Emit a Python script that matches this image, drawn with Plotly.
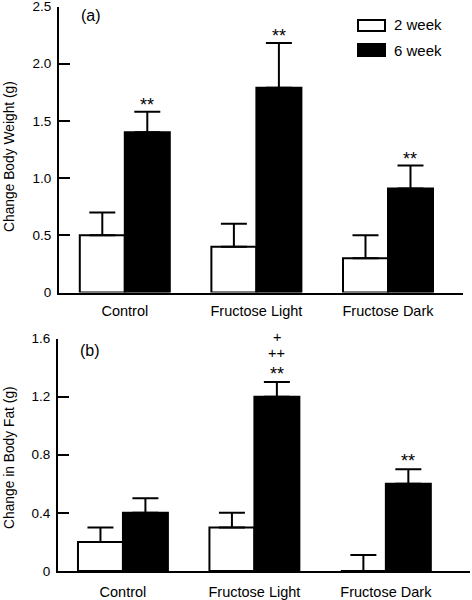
import plotly.graph_objects as go

categories = ["Control", "Fructose Light", "Fructose Dark"]
series_names = ["2 week", "6 week"]

weight_2wk = [0.5, 0.4, 0.3]
weight_2wk_err = [0.2, 0.2, 0.2]
weight_6wk = [1.4, 1.79, 0.91]
weight_6wk_err = [0.18, 0.39, 0.2]

fat_2wk = [0.2, 0.3, 0.0]
fat_2wk_err = [0.1, 0.1, 0.11]
fat_6wk = [0.4, 1.2, 0.6]
fat_6wk_err = [0.1, 0.1, 0.1]

weight_marks = [["**"], ["**"], ["**"]]          # above 6 week bars
fat_marks = [[], ["**", "++", "+"], ["**"]]       # above 6 week bars, bottom->top

weight_tickvals = [0, 0.5, 1.0, 1.5, 2.0, 2.5]
weight_ticktext = ["0", "0.5", "1.0", "1.5", "2.0", "2.5"]
fat_tickvals = [0, 0.4, 0.8, 1.2, 1.6]
fat_ticktext = ["0", "0.4", "0.8", "1.2", "1.6"]

FONT = "Liberation Sans, Arial, sans-serif"
BARGAP = 0.316
half_offset = (1 - BARGAP) / 4  # center offset of each bar within group

fig = go.Figure()

def add_pair(v2, e2, v6, e6, xa, ya):
    fig.add_trace(go.Bar(
        x=categories, y=v2, name=series_names[0], xaxis=xa, yaxis=ya,
        marker=dict(color="white", line=dict(color="black", width=2)),
        error_y=dict(type="data", symmetric=False, array=e2,
                     arrayminus=[0] * len(e2), color="black", thickness=2, width=13),
        showlegend=False))
    fig.add_trace(go.Bar(
        x=categories, y=v6, name=series_names[1], xaxis=xa, yaxis=ya,
        marker=dict(color="black", line=dict(color="black", width=2)),
        error_y=dict(type="data", symmetric=False, array=e6,
                     arrayminus=[0] * len(e6), color="black", thickness=2, width=13),
        showlegend=False))

add_pair(weight_2wk, weight_2wk_err, weight_6wk, weight_6wk_err, "x", "y")
add_pair(fat_2wk, fat_2wk_err, fat_6wk, fat_6wk_err, "x2", "y2")

STAR_SHIFT = 7
PLUS_STEP = 16

annotations = []
for i, marks in enumerate(weight_marks):
    for k, m in enumerate(marks):
        annotations.append(dict(
            x=i + half_offset, y=weight_6wk[i] + weight_6wk_err[i], xref="x", yref="y",
            text=m, showarrow=False, yanchor="middle", yshift=STAR_SHIFT + PLUS_STEP * k,
            font=dict(size=18, color="black", family=FONT)))
for i, marks in enumerate(fat_marks):
    for k, m in enumerate(marks):
        annotations.append(dict(
            x=i + half_offset, y=fat_6wk[i] + fat_6wk_err[i], xref="x2", yref="y2",
            text=m, showarrow=False, yanchor="middle",
            yshift=(STAR_SHIFT + 1 if m == "**" else 13) + PLUS_STEP * k,
            font=dict(size=18 if m == "**" else 14.5, color="black", family=FONT)))

# panel labels
annotations.append(dict(x=79 / 472, y=1 - 15 / 600, xref="paper", yref="paper", text="(a)",
                        showarrow=False, xanchor="left", yanchor="middle",
                        font=dict(size=16, color="black", family=FONT)))
annotations.append(dict(x=78 / 472, y=1 - 350 / 600, xref="paper", yref="paper", text="(b)",
                        showarrow=False, xanchor="left", yanchor="middle",
                        font=dict(size=16, color="black", family=FONT)))
# axis titles
annotations.append(dict(x=9 / 472, y=1 - 157 / 600, xref="paper", yref="paper",
                        text="Change Body Weight (g)", textangle=-90, showarrow=False,
                        xanchor="center", yanchor="middle",
                        font=dict(size=13.8, color="black", family=FONT)))
annotations.append(dict(x=9 / 472, y=1 - 458 / 600, xref="paper", yref="paper",
                        text="Change in Body Fat (g)", textangle=-90, showarrow=False,
                        xanchor="center", yanchor="middle",
                        font=dict(size=13.8, color="black", family=FONT)))
# legend text
annotations.append(dict(x=392 / 472, y=1 - 25 / 600, xref="paper", yref="paper",
                        text=series_names[0], showarrow=False, xanchor="left", yanchor="middle",
                        font=dict(size=15, color="black", family=FONT)))
annotations.append(dict(x=392 / 472, y=1 - 50 / 600, xref="paper", yref="paper",
                        text=series_names[1], showarrow=False, xanchor="left", yanchor="middle",
                        font=dict(size=15, color="black", family=FONT)))

shapes = [
    dict(type="rect", xref="paper", yref="paper", x0=358 / 472, x1=385 / 472,
         y0=1 - 31 / 600, y1=1 - 20 / 600, fillcolor="white", line=dict(color="black", width=2)),
    dict(type="rect", xref="paper", yref="paper", x0=358 / 472, x1=385 / 472,
         y0=1 - 56 / 600, y1=1 - 44 / 600, fillcolor="black", line=dict(color="black", width=2)),
]

xcommon = dict(type="category", showline=True, linewidth=2, linecolor="black", ticks="",
               showgrid=False, zeroline=False, automargin=False, ticklabeloverflow="allow",
               tickfont=dict(size=14.5, color="black", family=FONT))
ycommon = dict(showline=True, linewidth=2, linecolor="black", ticks="inside", ticklen=11,
               tickwidth=2, tickcolor="black", showgrid=False, zeroline=False, automargin=False,
               ticklabeloverflow="allow",
               tickfont=dict(size=13.5, color="black", family=FONT), ticklabelstandoff=3)

fig.update_layout(
    width=472, height=600,
    margin=dict(l=0, r=0, t=0, b=0, autoexpand=False),
    paper_bgcolor="white", plot_bgcolor="white",
    barmode="group", bargap=BARGAP, bargroupgap=0,
    showlegend=False,
    font=dict(family=FONT, color="black"),
    xaxis=dict(xcommon, domain=[59 / 472, 463 / 472], anchor="y", range=[-0.5, 2.57],
               ticklabelstandoff=4),
    yaxis=dict(ycommon, domain=[1 - 292.5 / 600, 1 - 6.5 / 600], anchor="x", range=[0, 2.5],
               tickvals=weight_tickvals, ticktext=weight_ticktext),
    xaxis2=dict(xcommon, domain=[58 / 472, 470 / 472], anchor="y2", range=[-0.494, 2.64],
                ticklabelstandoff=7),
    yaxis2=dict(ycommon, domain=[1 - 571 / 600, 1 - 338.5 / 600], anchor="x2", range=[0, 1.6],
                tickvals=fat_tickvals, ticktext=fat_ticktext),
    annotations=annotations,
    shapes=shapes,
)

fig.write_html(
    "out.html",
    config={"displayModeBar": False},
    post_script="document.body.style.margin='0';document.body.style.overflow='hidden';",
)
